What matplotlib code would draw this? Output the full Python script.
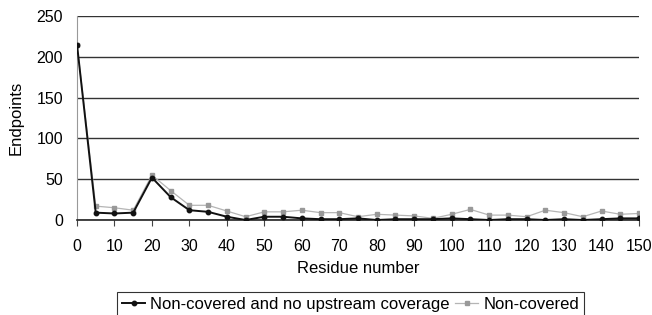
import matplotlib.pyplot as plt

plt.rcParams['font.family'] = ['Liberation Sans', 'DejaVu Sans']

# residue positions 0..150 in steps of 5
residues = list(range(0, 151, 5))

no_upstream = [215, 9, 8, 9, 52, 28, 12, 10, 4, 0, 4, 4, 2, 1,
               1, 2, 0, 1, 1, 1, 2, 1, 0, 1, 1, 0, 1, 0, 1, 2, 2]
non_covered = [215, 17, 15, 12, 55, 36, 18, 18, 11, 4, 10, 10, 12, 9,
               9, 4, 7, 6, 5, 2, 7, 13, 6, 6, 4, 12, 9, 4, 11, 7, 8]

yticks = [0, 50, 100, 150, 200, 250]
xticks = list(range(0, 151, 10))

fig = plt.figure(figsize=(6.52, 3.15), dpi=100)
ax = fig.add_axes([77/652, 95/315, 562/652, 204/315])

ax.plot(residues, non_covered, color='#b5b5b5', lw=0.9, marker='s',
        ms=3.5, mfc='#999999', mec='#999999', label='Non-covered', zorder=3)
ax.plot(residues, no_upstream, color='#111111', lw=1.4, marker='o',
        ms=3.2, mfc='#111111', mec='#111111',
        label='Non-covered and no upstream coverage', zorder=4)

ax.set_xlim(0, 150)
ax.set_ylim(0, 250)
ax.set_xticks(xticks)
ax.set_yticks(yticks)
ax.yaxis.grid(True, color='#333333', lw=1.0)
ax.set_axisbelow(True)

for s in ['top', 'right']:
    ax.spines[s].set_visible(False)
ax.spines['left'].set_color('#999999')
ax.spines['left'].set_linewidth(0.8)
ax.spines['bottom'].set_color('#222222')
ax.spines['bottom'].set_linewidth(1.2)

ax.tick_params(axis='x', direction='out', length=4, width=0.8,
               color='#444444', labelsize=11.5, pad=9.5)
ax.tick_params(axis='y', length=0, labelsize=11.5, pad=10)

ax.set_xlabel('Residue number', fontsize=12, labelpad=5)
ax.set_ylabel('Endpoints', fontsize=12, labelpad=9)

handles, labels = ax.get_legend_handles_labels()
leg = fig.legend(handles[::-1], labels[::-1], loc='upper center',
                 bbox_to_anchor=(0.5376, 1 - 292/315), ncol=2, fontsize=12,
                 frameon=True, fancybox=False, handlelength=1.4,
                 handletextpad=0.3, columnspacing=0.3, borderpad=0.3,
                 borderaxespad=0)
leg.get_frame().set_edgecolor('black')
leg.get_frame().set_linewidth(0.8)

fig.savefig('out.png', dpi=100)
